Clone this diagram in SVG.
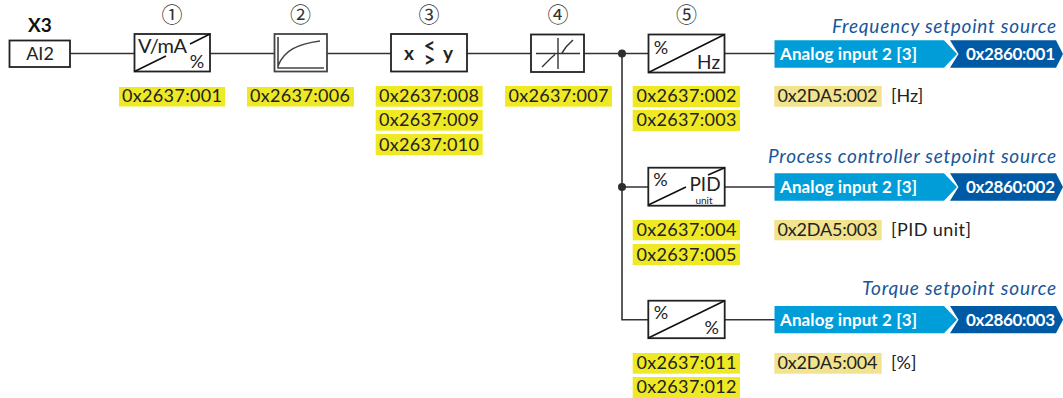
<svg xmlns="http://www.w3.org/2000/svg" width="1063" height="398" viewBox="0 0 1063 398">
<style>
text{font-family:"Lato","Open Sans",sans-serif;fill:#222}
.box{fill:#fff;stroke:#222;stroke-width:1.8}
.ln{fill:none;stroke:#333;stroke-width:1.6}
.diag{fill:none;stroke:#111;stroke-width:1.6}
.sym{fill:none;stroke:#333;stroke-width:1.4}
.t{font-size:18px}
.num{font-family:"Noto Sans CJK JP",sans-serif;font-size:21px;text-anchor:middle;fill:#333}
.y{fill:#eee825}
.b{fill:#f2e38e}
.wh{fill:#fff;font-weight:700;font-size:17px}
.it{font-style:italic;font-size:19px;fill:#17569a;text-anchor:end}
.a1{fill:#009dd9}
.a2{fill:#0059a4}
</style>
<g id="connectors">
<path class="ln" d="M70 53.500H134M210 53.500H274M327 53.500H391M467 53.500H531M584 53.500H648M724 53.500H775"/>
<path class="ln" d="M622 53.500V319.700H648M622 187H648M724 187H775M724 319.700H775"/>
<circle cx="622" cy="53.500" r="4" fill="#2b2f33"/>
<circle cx="622" cy="187" r="4" fill="#2b2f33"/>
</g>
<g id="x3">
<text x="40" y="32" text-anchor="middle" font-weight="700" font-size="19" style="fill:#111">X3</text>
<rect class="box" x="9.500" y="40.500" width="60.500" height="26.500"/>
<text class="t" x="40" y="60" text-anchor="middle">AI2</text>
</g>
<g id="step1">
<text class="num" x="172" y="22">①</text>
<rect class="box" x="134.500" y="34" width="75.500" height="37.500"/>
<path class="diag" d="M134.500 71.500L166 56M190 44L210 34"/>
<text x="138" y="53" font-size="20" textLength="49">V/mA</text>
<text class="t" x="197" y="68" text-anchor="middle">%</text>
<rect class="y" x="119" y="87" width="106" height="19.500"/>
<text class="t" x="122" y="102" textLength="100">0x2637:001</text>
</g>
<g id="step2">
<text class="num" x="300.500" y="22">②</text>
<rect x="274.500" y="34" width="52.500" height="37.500" fill="#fff" stroke="#444" stroke-width="1.800"/>
<path d="M278 37V68H324M278 66C284 50 298 44 320 41" fill="none" stroke="#444" stroke-width="1.600"/>
<rect class="y" x="247" y="87" width="107" height="19.500"/>
<text class="t" x="250" y="102" textLength="100">0x2637:006</text>
</g>
<g id="step3">
<text class="num" x="429" y="22">③</text>
<rect class="box" x="391" y="34" width="76" height="37.500"/>
<text x="409" y="60" text-anchor="middle" font-weight="700" font-size="19">x</text>
<text text-anchor="middle" font-weight="700" font-size="20"><tspan x="429.500" y="53">&lt;</tspan><tspan x="429.500" y="67">&gt;</tspan></text>
<text x="448" y="60" text-anchor="middle" font-weight="700" font-size="19">y</text>
<rect class="y" x="375.700" y="86" width="107" height="20.700"/>
<rect class="y" x="375.700" y="110" width="107" height="20.700"/>
<rect class="y" x="375.700" y="134" width="107" height="21"/>
<text class="t" x="379" y="102" textLength="100">0x2637:008</text>
<text class="t" x="379" y="126" textLength="100">0x2637:009</text>
<text class="t" x="379" y="151" textLength="100">0x2637:010</text>
</g>
<g id="step4">
<text class="num" x="558" y="22">④</text>
<rect class="box" x="531" y="34.500" width="53" height="37.500"/>
<path class="sym" d="M536 53.500H580M558 38V69M542 67L551 58L555 54.500M562 53L566 47L573 40"/>
<rect class="y" x="505" y="86" width="107" height="20.700"/>
<text class="t" x="508.500" y="102" textLength="100">0x2637:007</text>
</g>
<g id="step5">
<text class="num" x="686.500" y="22">⑤</text>
<rect class="box" x="648.500" y="34.500" width="76" height="38"/>
<path class="diag" d="M648.500 72.500L724.500 34.500"/>
<text class="t" x="661" y="54" text-anchor="middle">%</text>
<text x="720" y="69" text-anchor="end" font-size="19">Hz</text>
<rect class="y" x="632.700" y="86" width="107.300" height="21"/>
<rect class="y" x="632.700" y="110" width="107.300" height="21"/>
<text class="t" x="636.500" y="102" textLength="100">0x2637:002</text>
<text class="t" x="636.500" y="126" textLength="100">0x2637:003</text>
</g>
<g id="pid">
<rect class="box" x="648.300" y="167.700" width="76.400" height="38"/>
<path class="diag" d="M648.300 205L686 187M708 175L724.700 167.700"/>
<text class="t" x="660.500" y="186" text-anchor="middle">%</text>
<text x="705" y="191" text-anchor="middle" font-size="19">PID</text>
<text x="704" y="203.500" text-anchor="middle" font-size="10">unit</text>
<rect class="y" x="632.700" y="220" width="107.300" height="20.300"/>
<rect class="y" x="632.700" y="244" width="107.300" height="21"/>
<text class="t" x="636.500" y="236" textLength="100">0x2637:004</text>
<text class="t" x="636.500" y="261" textLength="100">0x2637:005</text>
</g>
<g id="torque">
<rect class="box" x="648.300" y="300.700" width="76.400" height="37.500"/>
<path class="diag" d="M648.300 338L724.700 300.700"/>
<text class="t" x="661" y="319" text-anchor="middle">%</text>
<text class="t" x="711.700" y="334" text-anchor="middle">%</text>
<rect class="y" x="632.700" y="353" width="107.300" height="20.700"/>
<rect class="y" x="632.700" y="377" width="107.300" height="21"/>
<text class="t" x="636.500" y="369" textLength="100">0x2637:011</text>
<text class="t" x="636.500" y="393" textLength="100">0x2637:012</text>
</g>
<g id="freq-source">
<text class="it" x="1056" y="33" textLength="224">Frequency setpoint source</text>
<path class="a1" d="M774.500 40.300H944L957 54L944 67.700H774.500Z"/>
<path class="a2" d="M950 40.300H1056L1063 54L1056 67.700H950L958.500 54Z"/>
<text class="wh" x="780" y="60" textLength="137">Analog input 2 [3]</text>
<text class="wh" x="966" y="60" textLength="89">0x2860:001</text>
<rect class="b" x="774.300" y="86" width="107.400" height="20.700"/>
<text class="t" x="777.500" y="102" textLength="100">0x2DA5:002</text>
<text class="t" x="891" y="102">[Hz]</text>
</g>
<g id="process-source">
<text class="it" x="1056" y="163" textLength="288">Process controller setpoint source</text>
<path class="a1" d="M774.500 173.300H944L957 187L944 200.700H774.500Z"/>
<path class="a2" d="M950 173.300H1056L1063 187L1056 200.700H950L958.500 187Z"/>
<text class="wh" x="780" y="193" textLength="137">Analog input 2 [3]</text>
<text class="wh" x="966" y="193" textLength="89">0x2860:002</text>
<rect class="b" x="774.300" y="220" width="107.400" height="20.300"/>
<text class="t" x="777.500" y="236" textLength="100">0x2DA5:003</text>
<text class="t" x="891" y="236" textLength="80">[PID unit]</text>
</g>
<g id="torque-source">
<text class="it" x="1056" y="295" textLength="194">Torque setpoint source</text>
<path class="a1" d="M774.500 306H944L957 319.700L944 333.300H774.500Z"/>
<path class="a2" d="M950 306H1056L1063 319.700L1056 333.300H950L958.500 319.700Z"/>
<text class="wh" x="780" y="326" textLength="137">Analog input 2 [3]</text>
<text class="wh" x="966" y="326" textLength="89">0x2860:003</text>
<rect class="b" x="774.300" y="353" width="107.400" height="20.700"/>
<text class="t" x="777.500" y="369" textLength="100">0x2DA5:004</text>
<text class="t" x="891" y="369">[%]</text>
</g>
</svg>
